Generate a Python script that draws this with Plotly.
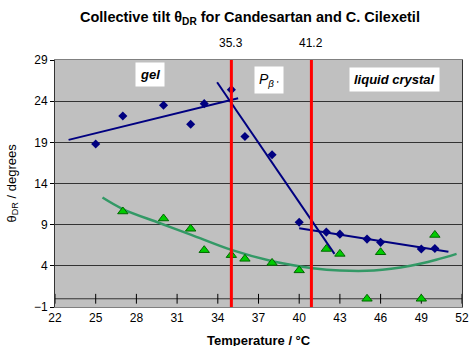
import plotly.graph_objects as go

# Data
cand_T = [25, 27, 30, 32, 33, 35, 36, 38, 40, 42, 43, 45, 46, 49, 50]
cand_theta = [18.8, 22.2, 23.5, 21.2, 23.7, 25.4, 19.7, 17.5, 9.3, 8.1, 7.85, 7.25, 6.85, 6.05, 6.1]

cil_T = [27, 30, 32, 33, 35, 36, 38, 40, 42, 43, 45, 46, 49, 50]
cil_theta = [10.6, 9.75, 8.5, 5.9, 5.3, 4.85, 4.35, 3.45, 6.05, 5.45, 0.0, 5.65, 0.0, 7.75]

gel_fit_T = [23.0, 35.5]
gel_fit_theta = [19.3, 24.35]
pb_fit_T = [33.95, 42.6]
pb_fit_theta = [26.3, 5.45]
lc_fit_T = [40.0, 51.0]
lc_fit_theta = [8.57, 5.7]

cil_fit_T = [25.5, 27, 29.7, 32, 35, 38.1, 41, 43, 45.5, 48.2, 50.1, 51.6]
cil_fit_theta = [12.3, 10.9, 9.2, 7.8, 5.94, 4.53, 3.72, 3.43, 3.43, 4.0, 4.73, 5.45]

transitions = [35.0, 40.9]
transition_labels = ["35.3", "41.2"]

x_ticks = [22, 25, 28, 31, 34, 37, 40, 43, 46, 49, 52]
y_ticks = [-1, 4, 9, 14, 19, 24, 29]

FONT = "Liberation Sans, Arial, sans-serif"
navy = "#000080"

fig = go.Figure()

# trend lines
for xs, ys in [(gel_fit_T, gel_fit_theta), (pb_fit_T, pb_fit_theta), (lc_fit_T, lc_fit_theta)]:
    fig.add_trace(go.Scatter(x=xs, y=ys, mode="lines", line=dict(color=navy, width=2),
                             hoverinfo="skip", showlegend=False))
fig.add_trace(go.Scatter(x=cil_fit_T, y=cil_fit_theta, mode="lines",
                         line=dict(color="#339966", width=2.5, shape="spline"),
                         showlegend=False))

# x-axis line at 0 with tick marks
fig.add_trace(go.Scatter(x=[22, 52], y=[0, 0], mode="lines", line=dict(color="#333333", width=1),
                         showlegend=False, hoverinfo="skip"))
fig.add_trace(go.Scatter(x=x_ticks, y=[0] * len(x_ticks), mode="markers",
                         marker=dict(symbol="line-ns", size=7, line=dict(color="#000", width=1)),
                         showlegend=False, hoverinfo="skip"))

# data points
fig.add_trace(go.Scatter(x=cand_T, y=cand_theta, mode="markers",
                         marker=dict(symbol="diamond", size=7, color=navy,
                                     line=dict(color=navy, width=0)),
                         name="Candesartan", showlegend=False))
fig.add_trace(go.Scatter(x=cil_T, y=cil_theta, mode="markers",
                         marker=dict(symbol="triangle-up", size=9, color="#00CC00",
                                     line=dict(color="#006600", width=1)),
                         name="C. Cilexetil", showlegend=False))

# transition lines
for t in transitions:
    fig.add_trace(go.Scatter(x=[t, t], y=[-1.4, 29], mode="lines",
                             line=dict(color="#FF0000", width=3),
                             showlegend=False, hoverinfo="skip", cliponaxis=False))

annotations = []
for t, lab in zip(transitions, transition_labels):
    annotations.append(dict(x=t, y=1, xref="x", yref="paper", yanchor="middle", yshift=17,
                            text=lab, showarrow=False,
                            font=dict(family=FONT, size=12, color="#000")))

for x, y, txt, sz in [(29.0, 27.2, "<b><i>gel</i></b>", 13),
                      (37.8, 26.6, "<i>P</i><sub><i>β</i> '</sub>", 14),
                      (47.0, 26.6, "<b><i>liquid crystal</i></b>", 13)]:
    annotations.append(dict(x=x, y=y, xref="x", yref="y", text=txt, showarrow=False,
                            bgcolor="white", borderpad=4,
                            font=dict(family=FONT, size=sz, color="#000")))

annotations.append(dict(x=(250 - 55) / (469 - 55 - 7), y=1, xref="paper", yref="paper",
                        xanchor="center", yanchor="middle", yshift=60 - 18,
                        text="<b>Collective tilt θ<sub>DR</sub> for Candesartan and C. Cilexetil</b>",
                        showarrow=False, font=dict(family=FONT, size=14.5, color="#000")))
annotations.append(dict(x=0.5, y=0, xref="paper", yref="paper", yanchor="middle", yshift=-33,
                        text="<b>Temperature / °C</b>", showarrow=False,
                        font=dict(family=FONT, size=13, color="#000")))
annotations.append(dict(x=0, y=0.5, xref="paper", yref="paper", xanchor="center",
                        xshift=-43, text="θ<sub>DR</sub> / degrees", textangle=-90,
                        showarrow=False, font=dict(family=FONT, size=13, color="#000")))

fig.update_layout(
    width=469, height=346,
    margin=dict(l=55, r=7, t=60, b=39),
    paper_bgcolor="white", plot_bgcolor="#C0C0C0",
    font=dict(family=FONT, size=12, color="#000"),
    annotations=annotations,
    showlegend=False,
)
fig.update_xaxes(range=[22, 52], tickvals=x_ticks, showgrid=False, zeroline=False,
                 showline=True, linecolor="#808080", linewidth=1, mirror=True,
                 ticks="", tickfont=dict(size=12), automargin=False)
fig.update_yaxes(range=[-1, 29], tickvals=y_ticks, showgrid=True, gridcolor="#333333",
                 gridwidth=1, zeroline=False, showline=True, linecolor="#333333",
                 linewidth=1, mirror=True, ticks="outside", ticklen=4, tickcolor="#000",
                 tickfont=dict(size=12), automargin=False)

fig.write_html("out.html", config={"displayModeBar": False},
               post_script="document.body.style.margin='0';document.body.style.overflow='hidden';")
